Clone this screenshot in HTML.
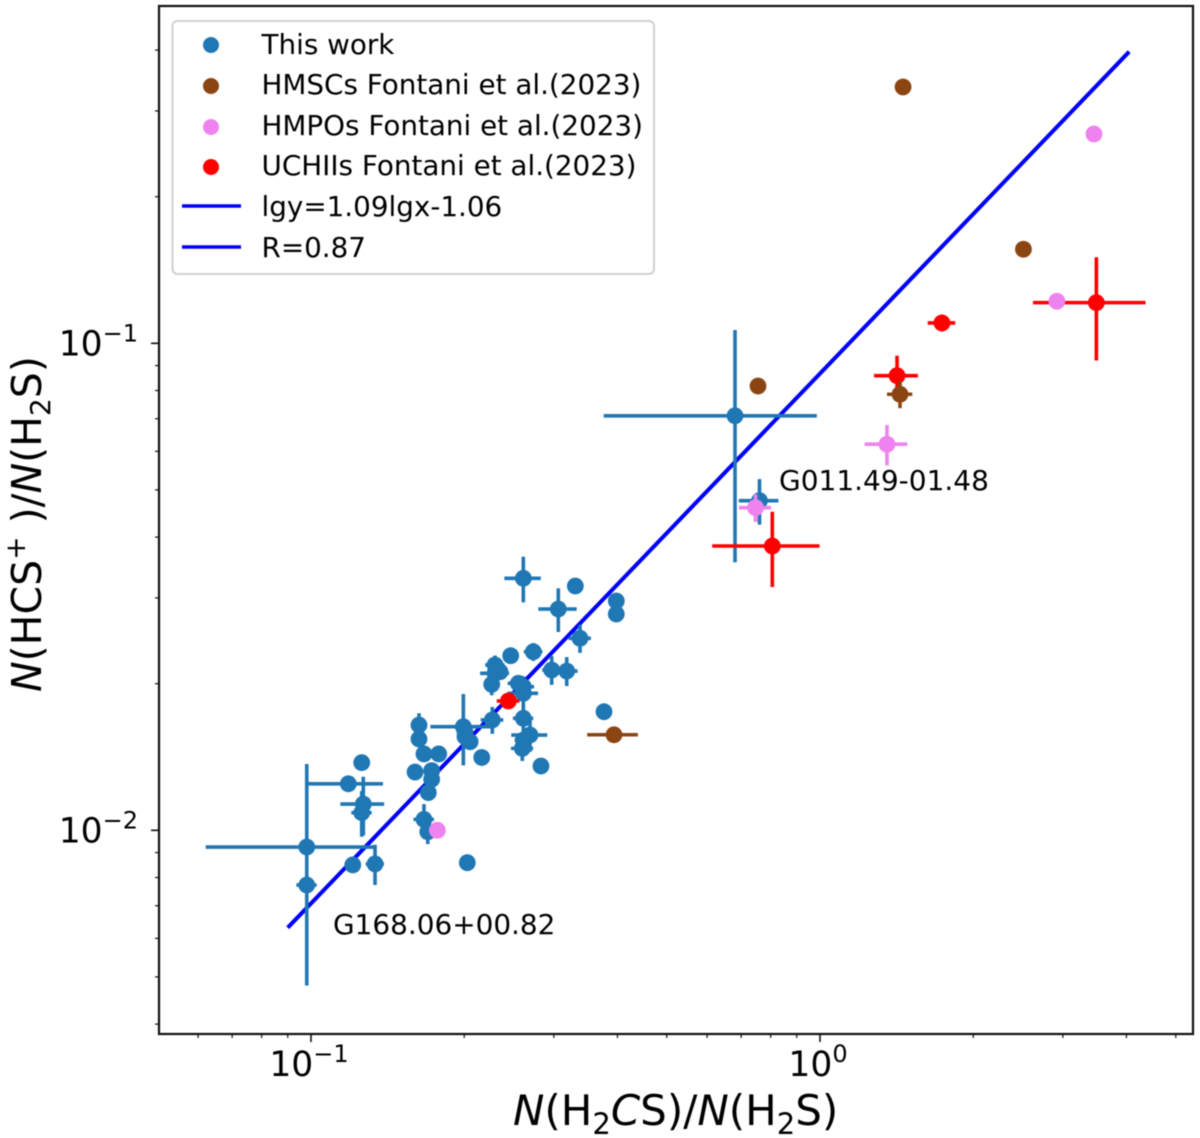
<!DOCTYPE html>
<html lang="en">
<head>
<meta charset="utf-8">
<title>HCS+ vs H2CS abundance ratios</title>
<style>
html,body{margin:0;padding:0;background:#fff;}
#chart{display:block;width:1200px;height:1138px;filter:blur(0.6px);}
text{font-family:"DejaVu Sans","Liberation Sans",sans-serif;fill:#000;}
</style>
</head>
<body>
<svg id="chart" xmlns="http://www.w3.org/2000/svg" width="1200" height="1138" viewBox="0 0 1200 1138">
  <rect x="0" y="0" width="1200" height="1138" fill="#fff"/>
  <g id="plot"></g>
  <g id="ticks"></g>
  <rect x="159" y="6" width="1034" height="1028" fill="none" stroke="#111" stroke-width="2.2"/>

  <text x="779" y="490" font-size="28">G011.49-01.48</text>
  <text x="333" y="934" font-size="27.9">G168.06+00.82</text>

  <text x="513" y="1125" font-size="42"><tspan font-style="italic">N</tspan>(H<tspan font-size="29" dy="9">2</tspan><tspan font-style="italic" dy="-9">C</tspan>S)/<tspan font-style="italic">N</tspan>(H<tspan font-size="29" dy="9">2</tspan><tspan dy="-9">S)</tspan></text>
  <text transform="translate(41,692) rotate(-90)" font-size="41"><tspan font-style="italic">N</tspan>(HCS<tspan font-size="28" dy="-16">+</tspan><tspan dy="16"> )/</tspan><tspan font-style="italic">N</tspan>(H<tspan font-size="28" dy="9">2</tspan><tspan dy="-9">S)</tspan></text>

  <g>
    <rect x="172.5" y="21" width="481.5" height="253" rx="5" ry="5" fill="#fff" stroke="#d0d0d0" stroke-width="2"/>
    <g>
      <circle cx="211" cy="45" r="8" fill="#1f77b4"/>
      <text x="261.5" y="54" font-size="27.8">This work</text>
    </g>
    <g>
      <circle cx="211" cy="86" r="8" fill="#8b4513"/>
      <text x="261.5" y="94" font-size="27.8">HMSCs Fontani et al.(2023)</text>
    </g>
    <g>
      <circle cx="211" cy="127" r="8" fill="#ee82ee"/>
      <text x="261.5" y="135" font-size="27.8">HMPOs Fontani et al.(2023)</text>
    </g>
    <g>
      <circle cx="211" cy="167" r="8" fill="#ff0000"/>
      <text x="261.5" y="175" font-size="27.8">UCHIIs Fontani et al.(2023)</text>
    </g>
    <g>
      <line x1="182" y1="206" x2="241" y2="206" stroke="#0000ff" stroke-width="3.5"/>
      <text x="261.5" y="216" font-size="27.8">lgy=1.09lgx-1.06</text>
    </g>
    <g>
      <line x1="182" y1="247" x2="241" y2="247" stroke="#0000ff" stroke-width="3.5"/>
      <text x="261.5" y="257" font-size="27.8">R=0.87</text>
    </g>
  </g>
</svg>
<script>
// Axis tick values
const xMajorTicks = [0.1, 1];
const xMajorLabels = ["\u22121", "0"];
const xMinorTicks = [0.06, 0.07, 0.08, 0.09, 0.2, 0.3, 0.4, 0.5, 0.6, 0.7, 0.8, 0.9, 2, 3, 4, 5];
const yMajorTicks = [0.1, 0.01];
const yMajorLabels = ["\u22121", "\u22122"];
const yMinorTicks = [0.004, 0.005, 0.006, 0.007, 0.008, 0.009, 0.02, 0.03, 0.04, 0.05, 0.06, 0.07, 0.08, 0.09, 0.2, 0.3, 0.4];

// Fit line end points
const fitX = [0.09, 4.05];
const fitY = [0.00631, 0.397];

// This work
const workX = [0.0981,0.0981,0.1184,0.1258,0.1267,0.1258,0.1208,0.1336,0.1667,0.1696,0.1601,0.1726,0.1726,0.17,0.1667,0.1782,0.2028,0.2165,0.163,0.163,0.1992,0.2007,0.2054,0.2007,0.2271,0.283,0.2613,0.2693,0.2613,0.2601,0.3764,0.2299,0.2299,0.2265,0.2351,0.2468,0.2734,0.2971,0.318,0.2555,0.2613,0.2613,0.3377,0.2613,0.3061,0.3306,0.3979,0.3979,0.6808,0.7606];
const workY = [0.00924,0.00772,0.01246,0.01377,0.01132,0.01087,0.00849,0.00853,0.01053,0.00993,0.01317,0.01326,0.01273,0.01195,0.01435,0.01435,0.00858,0.01411,0.01645,0.0154,0.01632,0.01557,0.0152,0.01591,0.01685,0.01355,0.01698,0.01569,0.01532,0.01473,0.01752,0.02185,0.02101,0.01994,0.02116,0.02283,0.02326,0.02134,0.02123,0.02004,0.01972,0.01911,0.02479,0.03292,0.02847,0.03174,0.02957,0.0278,0.07099,0.04752];
const workXErr = [0.036,0.0045,0.0201,0,0.0125,0.0058,0.002,0.0055,0.0077,0.003,0,0,0,0.003,0,0,0.003,0.003,0.006,0,0.0276,0,0,0,0.0116,0,0.012,0.0219,0.01,0.013,0,0.01,0.015,0.007,0,0,0.0115,0.0125,0.016,0.012,0.013,0.018,0.017,0.0215,0.0265,0,0,0,0.305,0.068];
const workYErr = [0.00444,0.0002,0.00048,0,0.00156,0.00117,0.0002,0.00081,0.00079,0.00056,0,0,0,0.00034,0,0,0.0002,0.0004,0.00094,0,0.00273,0,0,0,0.00107,0,0.0011,0.0012,0.0008,0.00085,0,0.001,0.001,0.001,0,0,0.00098,0.00145,0.00145,0.0008,0.001,0.0013,0.00165,0.00354,0.00293,0,0,0,0.0355,0.0051];

// HMSCs Fontani et al. (2023)
const hmscX = [0.7555, 1.436, 2.51, 1.456, 0.3938];
const hmscY = [0.0817, 0.07859, 0.156, 0.336, 0.01571];
const hmscXErr = [0, 0.082, 0, 0, 0.045];
const hmscYErr = [0, 0.005, 0, 0, 0.0002];

// HMPOs Fontani et al. (2023)
const hmpoX = [0.747, 1.354, 2.92, 3.453, 0.1771];
const hmpoY = [0.04597, 0.06205, 0.122, 0.269, 0.01];
const hmpoXErr = [0.054, 0.13, 0, 0, 0];
const hmpoYErr = [0.003, 0.0059, 0, 0, 0];

// UCHIIs Fontani et al. (2023)
const uchiiX = [0.806, 1.417, 1.736, 3.491, 0.2442];
const uchiiY = [0.03835, 0.08582, 0.1101, 0.1212, 0.01843];
const uchiiXErr = [0.192, 0.14, 0.108, 0.87, 0.0125];
const uchiiYErr = [0.00675, 0.0085, 0.0043, 0.029, 0.0003];

const SVGNS = "http://www.w3.org/2000/svg";
function xScale(v) { return 311 + 509 * (Math.log10(v) + 1); }
function yScale(v) { return 343.3 - 487 * (Math.log10(v) + 1); }

function make(tag, parent, attrs) {
  const el = document.createElementNS(SVGNS, tag);
  for (const k in attrs) el.setAttribute(k, attrs[k]);
  parent.appendChild(el);
  return el;
}

const plot = document.getElementById("plot");
const ticks = document.getElementById("ticks");

function drawXTick(v, len) {
  const el = make("line", ticks, {x1: xScale(v), x2: xScale(v), y1: 1034, y2: 1034 + len, stroke: "#111", "stroke-width": len > 5 ? 1.6 : 1.2});
  
  
}
function drawYTick(v, len) {
  const el = make("line", ticks, {x1: 159 - len, x2: 159, y1: yScale(v), y2: yScale(v), stroke: "#111", "stroke-width": len > 5 ? 1.6 : 1.2});
  
  
}
function tickLabel(x, y, anchor, exponent) {
  const t = make("text", ticks, {x: x, y: y, "text-anchor": anchor, "font-size": 34.5});
  
  
  const base = make("tspan", t, {});
  base.textContent = "10";
  const sup = make("tspan", t, {"font-size": 24, dy: -14});
  sup.textContent = exponent;
}

xMinorTicks.forEach(function (v) { drawXTick(v, 4); });
yMinorTicks.forEach(function (v) { drawYTick(v, 4); });
xMajorTicks.forEach(function (v, i) {
  drawXTick(v, 8);
  tickLabel(xScale(v) - 2, 1076, "middle", xMajorLabels[i]);
});
yMajorTicks.forEach(function (v, i) {
  drawYTick(v, 8);
  tickLabel(138, yScale(v) + 12, "end", yMajorLabels[i]);
});

const fit = make("line", plot, {x1: xScale(fitX[0]), y1: yScale(fitY[0]), x2: xScale(fitX[1]), y2: yScale(fitY[1]), stroke: "#0000ff", "stroke-width": 4});



function drawSeries(xs, ys, xe, ye, color) {
  xs.forEach(function (x, i) {
    const y = ys[i];
    const g = make("g", plot, {});
    
    
    if (xe[i] > 0) {
      const h = make("line", g, {x1: xScale(x - xe[i]), x2: xScale(x + xe[i]), y1: yScale(y), y2: yScale(y), stroke: color, "stroke-width": 3.6});
      
      
    }
    if (ye[i] > 0) {
      const v = make("line", g, {x1: xScale(x), x2: xScale(x), y1: yScale(y - ye[i]), y2: yScale(y + ye[i]), stroke: color, "stroke-width": 3.6});
      
      
    }
    const c = make("circle", g, {cx: xScale(x), cy: yScale(y), r: 8.4, fill: color});
    
    
  });
}

drawSeries(workX, workY, workXErr, workYErr, "#1f77b4");
drawSeries(uchiiX, uchiiY, uchiiXErr, uchiiYErr, "#ff0000");
drawSeries(hmscX, hmscY, hmscXErr, hmscYErr, "#8b4513");
drawSeries(hmpoX, hmpoY, hmpoXErr, hmpoYErr, "#ee82ee");
</script>
</body>
</html>
